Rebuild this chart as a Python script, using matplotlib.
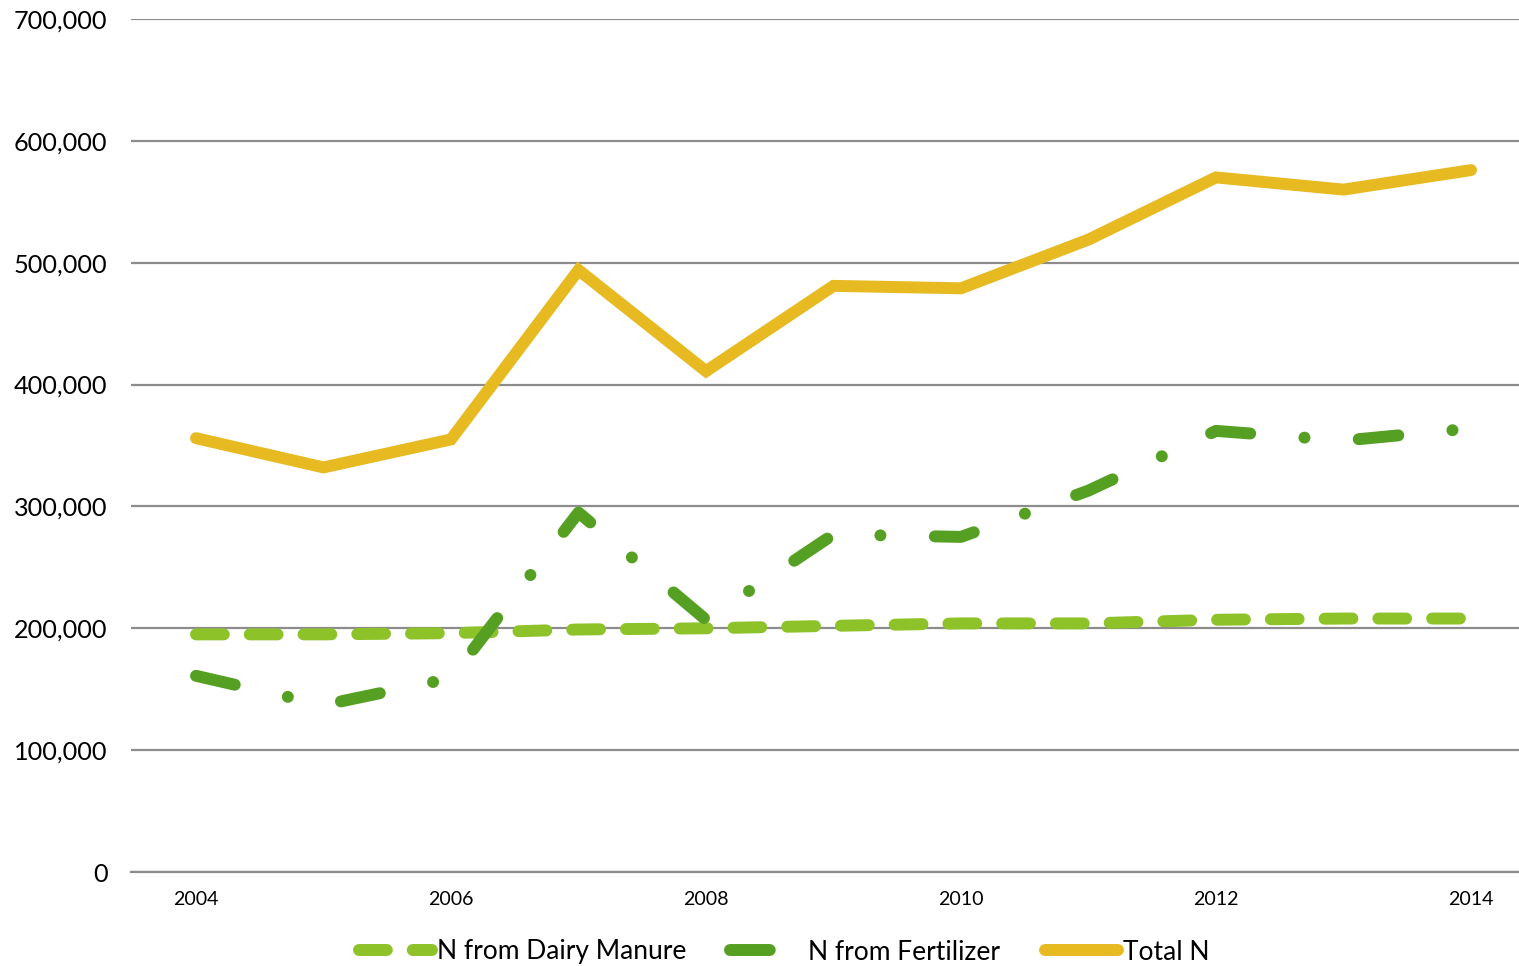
import matplotlib
matplotlib.use("Agg")
import matplotlib.pyplot as plt
from matplotlib.ticker import FuncFormatter

years = [2004, 2005, 2006, 2007, 2008, 2009, 2010, 2011, 2012, 2013, 2014]
dairy_manure = [195000, 195000, 196000, 199000, 200000, 202000, 204000, 204000, 207000, 208000, 208000]
fertilizer = [161000, 137000, 159000, 295000, 207000, 277000, 275000, 313000, 362000, 354000, 364000]
total_n = [356000, 332000, 355000, 494000, 411000, 481000, 479000, 519000, 570000, 560000, 576000]
labels = ["N from Dairy Manure", "N from Fertilizer", "Total N"]
x_ticks = [2004, 2006, 2008, 2010, 2012, 2014]
y_ticks = [0, 100000, 200000, 300000, 400000, 500000, 600000, 700000]

plt.rcParams['font.family'] = ['Lato', 'DejaVu Sans']

fig = plt.figure(figsize=(15.19, 9.66), dpi=100)
ax = fig.add_axes([131/1519, 1-872/966, 1-131/1519, (872-19)/966])

lw = 8.6
ax.plot(years, dairy_manure, color='#8DC228', lw=lw, dashes=(2.33, 2.17),
        dash_capstyle='round', solid_capstyle='round', label=labels[0], zorder=3)
ax.plot(years, fertilizer, color='#55A022', lw=lw, dashes=(3.33, 4.55, 0.01, 4.55),
        dash_capstyle='round', solid_capstyle='round', label=labels[1], zorder=4)
ax.plot(years, total_n, color='#E7BA22', lw=lw, solid_capstyle='round',
        solid_joinstyle='miter', label=labels[2], zorder=5)

ax.set_xlim(2004 - 65/127.5, 2014 + 48/127.5)
ax.set_ylim(0, 700000)
ax.set_xticks(x_ticks)
ax.set_yticks(y_ticks)
ax.yaxis.set_major_formatter(FuncFormatter(lambda v, p: f"{int(v):,}"))
ax.grid(axis='y', color='#8C8C8C', lw=1.6)
ax.set_axisbelow(True)
for s in ['top', 'right', 'left']:
    ax.spines[s].set_visible(False)
ax.spines['bottom'].set_color('#8C8C8C')
ax.spines['bottom'].set_linewidth(1.6)
ax.tick_params(axis='y', length=0, pad=17, labelsize=18.2)
ax.tick_params(axis='x', length=0, pad=14, labelsize=14.1)

leg = fig.legend(loc='center', bbox_to_anchor=(784/1519, 1-952/966), ncol=3,
                 frameon=False, fontsize=19, handlelength=2.77, handletextpad=0.19,
                 columnspacing=1.67)
fig.savefig("out.png", dpi=100)
